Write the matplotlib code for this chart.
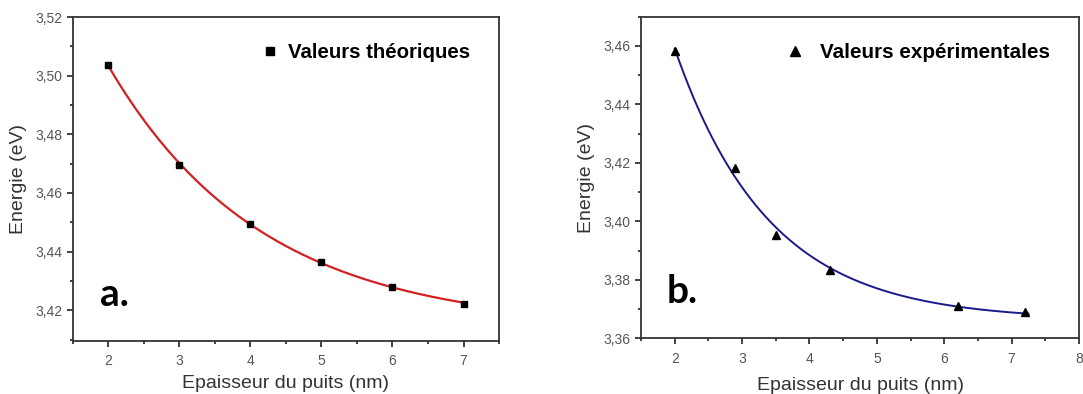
import matplotlib
matplotlib.use("Agg")
import matplotlib.pyplot as plt
from matplotlib.ticker import MultipleLocator, FuncFormatter
import numpy as np

# données
x_theo = [2, 3, 4, 5, 6, 7]
e_theo = [3.5036, 3.4697, 3.4493, 3.4365, 3.4280, 3.4222]

x_exp = [2.0, 2.9, 3.5, 4.3, 6.2, 7.2]
e_exp = [3.4584, 3.4184, 3.3953, 3.3834, 3.3712, 3.3691]

xlabel = "Epaisseur du puits (nm)"
ylabel = "Energie (eV)"

plt.rcParams['font.family'] = ['Liberation Sans', 'DejaVu Sans']


def expdec_fit(x, y):
    # y = y0 + A*exp(-x/t), t par balayage, y0 et A par moindres carrés
    x = np.asarray(x, float)
    y = np.asarray(y, float)
    best = None
    for t in np.linspace(0.3, 10, 2000):
        M = np.column_stack([np.ones_like(x), np.exp(-x / t)])
        coef, res, _, _ = np.linalg.lstsq(M, y, rcond=None)
        err = np.sum((M @ coef - y) ** 2)
        if best is None or err < best[0]:
            best = (err, t, coef)
    _, t, coef = best
    return lambda xx: coef[0] + coef[1] * np.exp(-xx / t)


def comma(v, pos):
    return ("%.2f" % v).replace(".", ",")


def style(ax, xlim, ylim, xpad=5):
    ax.set_xlim(*xlim)
    ax.set_ylim(*ylim)
    ax.xaxis.set_major_locator(MultipleLocator(1))
    ax.xaxis.set_minor_locator(MultipleLocator(0.5))
    ax.yaxis.set_major_locator(MultipleLocator(0.02))
    ax.yaxis.set_minor_locator(MultipleLocator(0.01))
    ax.yaxis.set_major_formatter(FuncFormatter(comma))
    ax.tick_params(which='both', direction='out', top=False, right=False,
                   colors='#333333', labelcolor='#555555', width=1.3)
    ax.tick_params(which='major', length=4.5, labelsize=10, pad=3)
    ax.tick_params(which='minor', length=2.5)
    ax.tick_params(axis='x', which='major', pad=5)
    for s in ax.spines.values():
        s.set_color('#333333')
        s.set_linewidth(1.3)
    ax.set_xlabel(xlabel, fontsize=14, color='#333333', labelpad=xpad)
    ax.set_ylabel(ylabel, fontsize=14, color='#333333', labelpad=6)


fig = plt.figure(figsize=(10.83, 3.94), dpi=100)
ax1 = fig.add_axes([0.0671, 0.1345, 0.3937, 0.8223])
ax2 = fig.add_axes([0.5919, 0.1409, 0.4044, 0.8167])

# panneau a
f1 = expdec_fit(x_theo, e_theo)
xx1 = np.linspace(min(x_theo), max(x_theo), 300)
ax1.plot(xx1, f1(xx1), color='#d42020', lw=1.6, zorder=2)
ax1.plot(x_theo, e_theo, ls='none', marker='s', ms=4.5, color='black',
         label='Valeurs théoriques', zorder=3)
style(ax1, (1.5, 7.5), (3.4095, 3.52))
ax1.legend(loc='upper right', bbox_to_anchor=(0.975, 0.975), frameon=False,
           handletextpad=0.5, handlelength=0.8, markerscale=1.3,
           prop={'weight': 'bold', 'size': 14.7})
ax1.text(0.063, 0.145, "a.", transform=ax1.transAxes, fontsize=28,
         fontweight='bold', family='Lato', va='center', ha='left')

# panneau b
f2 = expdec_fit(x_exp, e_exp)
xx2 = np.linspace(min(x_exp), max(x_exp) + 0.05, 300)
ax2.plot(xx2, f2(xx2), color='#1a1a8c', lw=1.4, zorder=2)
ax2.plot(x_exp, e_exp, ls='none', marker='^', ms=6, color='black',
         label='Valeurs expérimentales', zorder=3)
style(ax2, (1.5, 8), (3.36, 3.47), xpad=8)
ax2.legend(loc='upper right', bbox_to_anchor=(0.977, 0.975), frameon=False,
           handletextpad=0.8, handlelength=0.8, markerscale=1.3,
           prop={'weight': 'bold', 'size': 14.9})
ax2.text(0.058, 0.145, "b.", transform=ax2.transAxes, fontsize=28,
         fontweight='bold', family='Lato', va='center', ha='left')

fig.savefig("out.png", dpi=100)
